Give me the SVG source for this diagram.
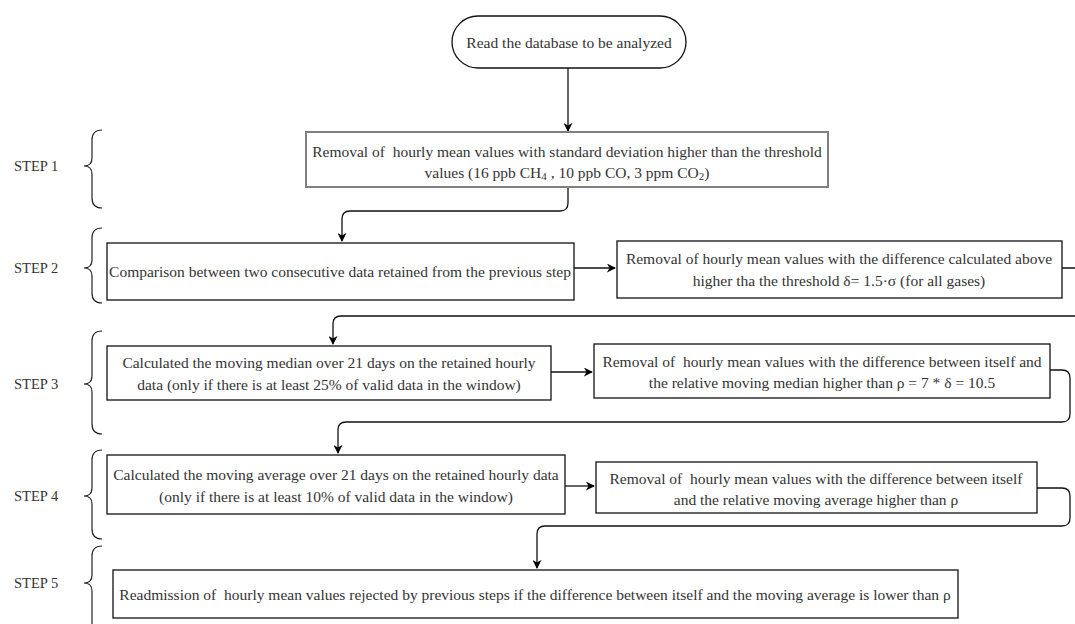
<svg xmlns="http://www.w3.org/2000/svg" width="1075" height="624" viewBox="0 0 1075 624">
<defs>
<marker id="arr" viewBox="0 0 10 10" refX="9" refY="5" markerWidth="9" markerHeight="9" markerUnits="userSpaceOnUse" orient="auto">
<path d="M0,0 L10,5 L0,10 L3,5 z" fill="#000"/>
</marker>
<style>
text{font-family:"Liberation Serif","Times New Roman",serif;font-size:15.5px;fill:#333;text-anchor:middle;dominant-baseline:central;white-space:pre}
.lbl{font-size:14.5px;text-anchor:start}
.box{fill:#fff;stroke:#111;stroke-width:1.3}
.gbox{fill:#fff;stroke:#808080;stroke-width:2}
.con{fill:none;stroke:#111;stroke-width:1.3}
.brace{fill:none;stroke:#222;stroke-width:1.2}
</style>
</defs>
<rect width="1075" height="624" fill="#fff"/>
<g id="labels">
<text class="lbl" x="14" y="166">STEP 1</text>
<text class="lbl" x="14" y="268">STEP 2</text>
<text class="lbl" x="14" y="384">STEP 3</text>
<text class="lbl" x="14" y="496">STEP 4</text>
<text class="lbl" x="14" y="583">STEP 5</text>
</g>
<g id="braces">
<path class="brace" d="M102,130 Q92,130 92,140 V158 Q92,166 84,166 Q92,166 92,174 V198 Q92,208 102,208"/>
<path class="brace" d="M102,228 Q92,228 92,238 V260 Q92,268 84,268 Q92,268 92,276 V293 Q92,303 102,303"/>
<path class="brace" d="M102,331 Q92,331 92,341 V376 Q92,384 84,384 Q92,384 92,392 V424 Q92,434 102,434"/>
<path class="brace" d="M102,450 Q92,450 92,460 V488 Q92,496 84,496 Q92,496 92,504 V529 Q92,539 102,539"/>
<path class="brace" d="M102,546 Q92,546 92,556 V575 Q92,583 84,583 Q92,583 92,591 V624"/>
</g>
<g id="connectors">
<path class="con" d="M568,68 V131" marker-end="url(#arr)"/>
<path class="con" d="M568,187 V203 Q568,211 560,211 H350 Q342,211 342,219 V241" marker-end="url(#arr)"/>
<path class="con" d="M574,268 H615" marker-end="url(#arr)"/>
<path class="con" d="M1062,268 H1090 V316 H341 Q333,316 333,324 V344" marker-end="url(#arr)"/>
<path class="con" d="M551,372 H592" marker-end="url(#arr)"/>
<path class="con" d="M1050,370 H1062 Q1070,370 1070,378 V414 Q1070,422 1062,422 H346 Q338,422 338,430 V453" marker-end="url(#arr)"/>
<path class="con" d="M565,486 H594" marker-end="url(#arr)"/>
<path class="con" d="M1037,488 H1062 Q1070,488 1070,496 V518 Q1070,526 1062,526 H545 Q537,526 537,534 V568" marker-end="url(#arr)"/>
</g>
<g id="start">
<rect x="452" y="16" width="234" height="52" rx="26" class="box"/>
<text x="569" y="42">Read the database to be analyzed</text>
</g>
<g id="step1">
<rect x="306" y="132" width="522" height="55" class="gbox"/>
<text x="567" y="151">Removal of  hourly mean values with standard deviation higher than the threshold</text>
<text x="567" y="172">values (16 ppb CH<tspan font-size="11" dy="4">4</tspan><tspan dy="-4"> , 10 ppb CO, 3 ppm CO</tspan><tspan font-size="11" dy="4">2</tspan><tspan dy="-4">)</tspan></text>
</g>
<g id="step2a">
<rect x="107" y="243" width="467" height="57" class="box"/>
<text x="340" y="271">Comparison between two consecutive data retained from the previous step</text>
</g>
<g id="step2b">
<rect x="617" y="241" width="445" height="57" class="box"/>
<text x="839" y="258">Removal of hourly mean values with the difference calculated above</text>
<text x="839" y="280">higher tha the threshold δ= 1.5·σ (for all gases)</text>
</g>
<g id="step3a">
<rect x="107" y="346" width="444" height="54" class="box"/>
<text x="329" y="362">Calculated the moving median over 21 days on the retained hourly</text>
<text x="329" y="384">data (only if there is at least 25% of valid data in the window)</text>
</g>
<g id="step3b">
<rect x="594" y="344" width="456" height="54" class="box"/>
<text x="822" y="361">Removal of  hourly mean values with the difference between itself and</text>
<text x="822" y="382">the relative moving median higher than ρ = 7 * δ = 10.5</text>
</g>
<g id="step4a">
<rect x="107" y="455" width="458" height="59" class="box"/>
<text x="336" y="474">Calculated the moving average over 21 days on the retained hourly data</text>
<text x="336" y="496">(only if there is at least 10% of valid data in the window)</text>
</g>
<g id="step4b">
<rect x="596" y="462" width="441" height="51" class="box"/>
<text x="816" y="478">Removal of  hourly mean values with the difference between itself</text>
<text x="816" y="499">and the relative moving average higher than ρ</text>
</g>
<g id="step5">
<rect x="113" y="570" width="845" height="48" class="box"/>
<text x="535" y="594">Readmission of  hourly mean values rejected by previous steps if the difference between itself and the moving average is lower than ρ</text>
</g>
</svg>
